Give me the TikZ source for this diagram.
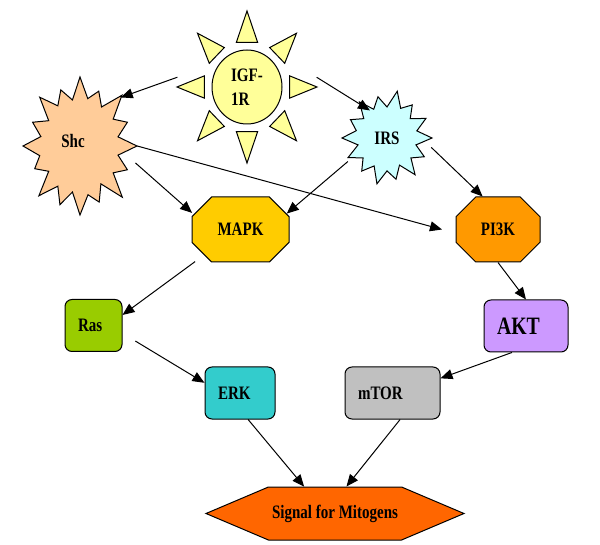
\documentclass[tikz,border=0pt]{standalone}
\usepackage{fontspec}
\setmainfont{Liberation Serif}[FakeStretch=0.79]
\usetikzlibrary{arrows.meta,shapes.geometric,shapes.misc,shapes.symbols,backgrounds}

\definecolor{sunc}{HTML}{FFFF99}
\definecolor{shcc}{HTML}{FFCC99}
\definecolor{irsc}{HTML}{CCFFFF}
\definecolor{mapkc}{HTML}{FFCC00}
\definecolor{pikc}{HTML}{FF9900}
\definecolor{rasc}{HTML}{99CC00}
\definecolor{aktc}{HTML}{CC99FF}
\definecolor{erkc}{HTML}{33CCCC}
\definecolor{mtorc}{HTML}{C0C0C0}
\definecolor{sigc}{HTML}{FF6600}

\tikzset{
	lbl/.style={font=\fontsize{19}{24}\selectfont\bfseries},
	outl/.style={draw, line width=1pt, line join=miter},
	oct/.style={chamfered rectangle, chamfered rectangle sep=10pt, outl, lbl},
	box/.style={rectangle, rounded corners=7pt, outl, minimum height=52pt, align=left, inner xsep=13pt, lbl},
	burst/.style={ellipse, inner sep=0pt, lbl},
	arr/.style={-{Triangle[length=12pt,width=10pt]}, line width=1pt}
}

\begin{document}
\begin{tikzpicture}[x=1pt, y=-1pt]
		%%%%% START %%%%%
		\useasboundingbox (0, 0) rectangle (600, 545);
		
		\node[burst, minimum width=140pt, minimum height=152pt, align=left] (igf) at (247, 87) {IGF-\\1R};
		\node[burst, minimum width=114pt, minimum height=138pt] (shc) at (80, 146) {\raisebox{10pt}{Shc}\hspace*{14pt}};
		\node[burst, minimum width=90pt, minimum height=94pt] (irs) at (387, 138) {IRS};
		
		\node[oct, fill=mapkc, minimum width=97pt, minimum height=65pt] (mapk) at (240.5, 229.5) {MAPK};
		\node[oct, fill=pikc, minimum width=84pt, minimum height=65pt] (pi3k) at (498, 229.5) {PI3K};
		
		\node[box, fill=rasc, text width=31pt] (ras) at (93.5, 325.5) {Ras};
		\node[box, fill=aktc, text width=58pt, font=\fontsize{25}{28}\selectfont\bfseries] (akt) at (526, 326) {AKT};
		\node[box, fill=erkc, text width=44pt] (erk) at (240, 393) {ERK};
		\node[box, fill=mtorc, text width=69pt] (mtor) at (392.5, 393) {mTOR};
		
		\node[signal, signal to=west and east, signal pointer angle=46, outl, fill=sigc, minimum width=258pt, minimum height=53pt, lbl] (sig) at (335, 513.5) {Signal for Mitogens};
		
		\begin{scope}[on background layer]
			% sun
			\draw[outl, fill=sunc] (igf.center) ellipse [x radius=35, y radius=37];
			\foreach \a in {0,45,...,315}
				\draw[outl, fill=sunc, shift={(igf.center)}] ({44*cos(\a-14)}, {46*sin(\a-14)}) -- ({70*cos(\a)}, {76*sin(\a)}) -- ({44*cos(\a+14)}, {46*sin(\a+14)}) -- cycle;
			
			% bursts
			\draw[outl, fill=shcc, shift={(shc.center)}] (57, 0)
				\foreach \a/\r in {11.25/0.68, 22.5/0.9, 33.75/0.7, 45/1.05, 56.25/0.66, 67.5/0.88, 78.75/0.72, 90/1.0, 101.25/0.68, 112.5/0.92, 123.75/0.7, 135/1.02, 146.25/0.66, 157.5/0.86, 168.75/0.72, 180/1.0, 191.25/0.7, 202.5/0.9, 213.75/0.66, 225/1.0, 236.25/0.7, 247.5/0.88, 258.75/0.68, 270/1.0, 281.25/0.7, 292.5/0.86, 303.75/0.68, 315/1.04, 326.25/0.7, 337.5/0.9, 348.75/0.68}
				{-- ({\r*57*cos(\a)}, {\r*69*sin(\a)})} -- cycle;
			\draw[outl, fill=irsc, shift={(irs.center)}] (45, 0)
				\foreach \a/\r in {12.9/0.66, 25.7/0.92, 38.6/0.68, 51.4/1.0, 64.3/0.64, 77.1/0.9, 90/0.7, 102.9/1.0, 115.7/0.66, 128.6/0.9, 141.4/0.68, 154.3/0.96, 167.1/0.66, 180/1.0, 192.9/0.7, 205.7/0.9, 218.6/0.66, 231.4/0.98, 244.3/0.68, 257.1/0.9, 270/0.66, 282.9/1.02, 295.7/0.7, 308.6/0.9, 321.4/0.66, 334.3/0.96, 347.1/0.68}
				{-- ({\r*45*cos(\a)}, {\r*47*sin(\a)})} -- cycle;
		\end{scope}
		
		\draw[arr] (igf.172) -- (shc.50);
		\draw[arr, shorten >=-15pt] (igf.8) -- (irs.130);
		
		\draw[arr, shorten >=2pt] (shc.-17) -- (mapk.162);
		\draw[arr, shorten >=14pt] (shc.east) -- (pi3k.185);
		\draw[arr] (irs.211) -- (mapk.19);
		\draw[arr] (irs.-12) -- (pi3k.115);
		
		\draw[arr, shorten <=11pt] (mapk.215) -- (ras.20);
		\draw[arr, shorten <=15pt] (ras.-15) -- (erk.164);
		\draw[arr] (pi3k.south) -- (akt.north);
		\draw[arr] (akt.242) -- (mtor.17);
		
		\draw[arr] (erk.-73) -- (sig.139);
		\draw[arr] (mtor.-74) -- (sig.67);
		
		%%%%% END %%%%%
\end{tikzpicture}
\end{document}
